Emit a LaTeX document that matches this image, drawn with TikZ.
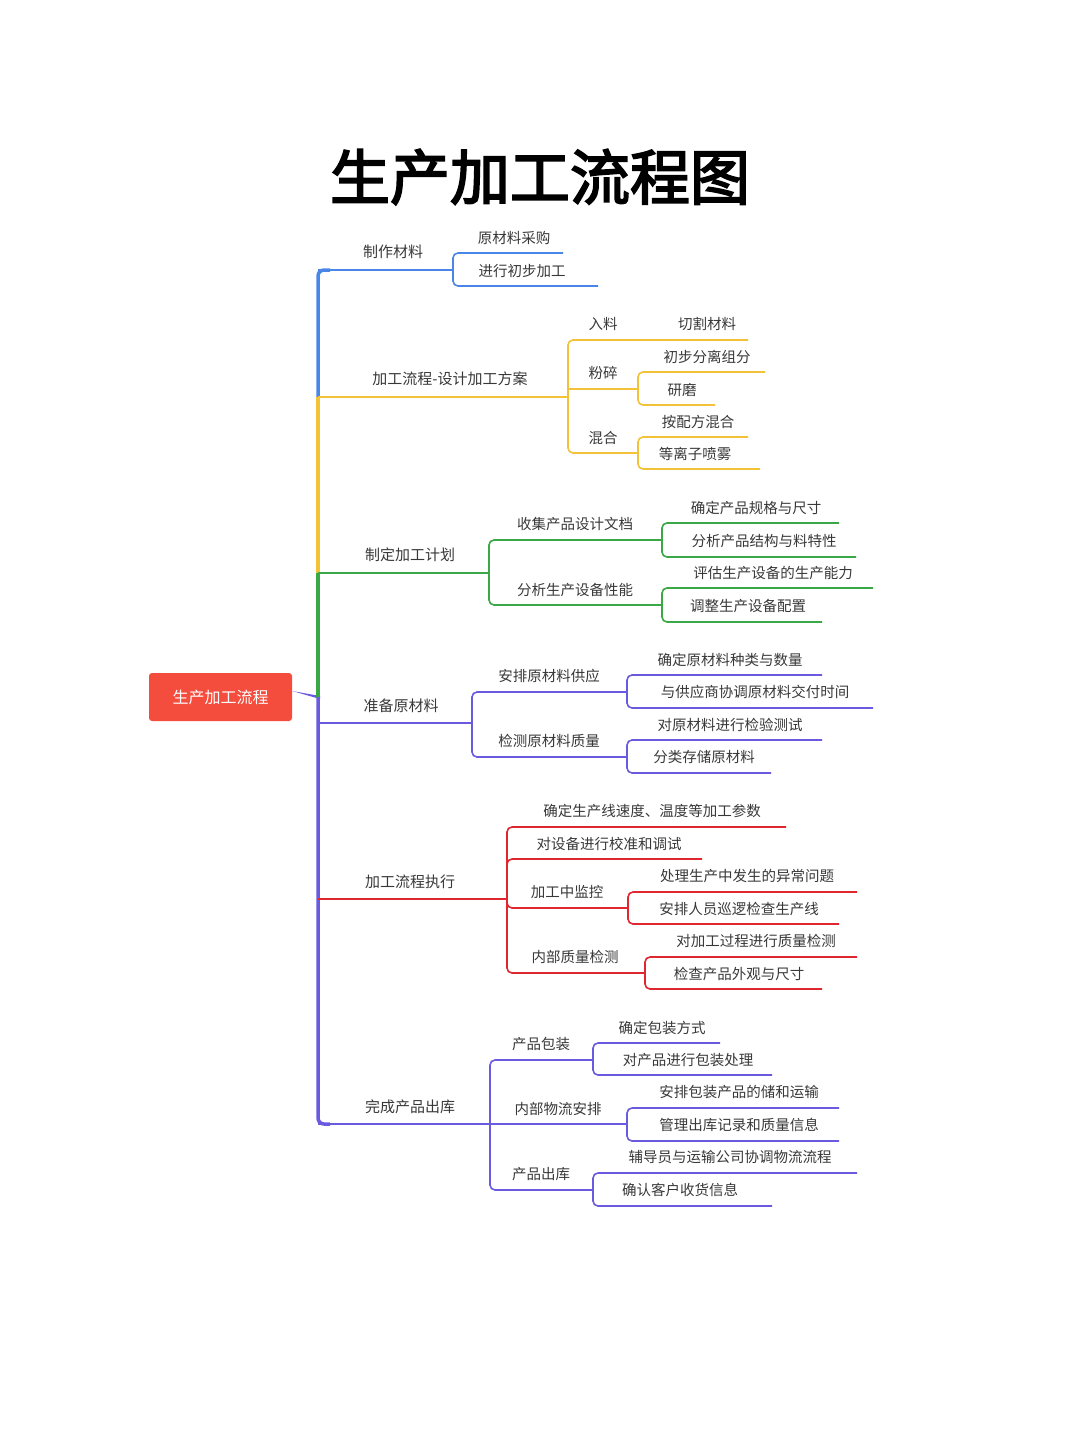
\documentclass[tikz,border=0pt]{standalone}
\usepackage{fontspec}
\setmainfont{Noto Sans CJK SC}
\newfontfamily\titlefont[FakeBold=3]{Noto Sans CJK SC}
\begin{document}
\begin{tikzpicture}[x=1pt,y=-1pt,
  lbl/.style={text=black!78,font=\fontsize{14.5}{16}\selectfont,inner sep=0pt},
  lone/.style={lbl,font=\fontsize{15}{17}\selectfont},
  ln/.style={line width=1.6pt,rounded corners=5pt},
  ]
\definecolor{cblue}{HTML}{4A86E8}
\definecolor{cyel}{HTML}{F4C238}
\definecolor{cgreen}{HTML}{3BA846}
\definecolor{cpur}{HTML}{6A5AE0}
\definecolor{cred}{HTML}{E0262F}
\definecolor{croot}{HTML}{F44C3D}
\useasboundingbox (0,0) rectangle (1080,1439);
\newcommand\cl[5]{\draw[ln,#1] (#2,#3) -- (#2,#4) -- (#5,#4);}
% title
\node (title) at (540,177) {\titlefont\fontsize{60}{64}\selectfont 生产加工流程图};
% root
\node[fill=croot,rounded corners=3pt,minimum width=143pt,minimum height=48pt,text=white,font=\fontsize{16}{18}\selectfont] (root) at (220.5,697) {生产加工流程};
\fill[cpur] (root.east) ++(0,-6) -- (320,696) -- (320,699) -- ([yshift=6pt]root.east) -- cycle;
% spine
\draw[cblue,line width=3.5pt,rounded corners=6pt] (330,270) -- (318,270) -- (318,398);
\draw[cyel,line width=3.5pt] (318,397) -- (318,574);
\draw[cgreen,line width=3.5pt] (318,573) -- (318,698);
\draw[cpur,line width=3.5pt,rounded corners=6pt] (318,697) -- (318,1124) -- (330,1124);
% level1 lines
\draw[ln,cblue] (318,270) -- (453,270);
\draw[ln,cyel] (318,397) -- (568,397);
\draw[ln,cgreen] (318,573) -- (489,573);
\draw[ln,cpur] (318,723) -- (472,723);
\draw[ln,cred] (318,899) -- (507,899);
\draw[ln,cpur] (318,1124) -- (490,1124);
\node[lone] (a) at (393,252) {制作材料};
\node[lone] (b) at (450,379) {加工流程-设计加工方案};
\node[lone] (c) at (410,555) {制定加工计划};
\node[lone] (d) at (401,706) {准备原材料};
\node[lone] (e) at (410,882) {加工流程执行};
\node[lone] (f) at (410,1107) {完成产品出库};
% A
\cl{cblue}{453}{270}{253}{563} \cl{cblue}{453}{270}{286}{598}
\node[lbl] (a1) at (514,238) {原材料采购};
\node[lbl] (a2) at (522,271) {进行初步加工};
% B
\cl{cyel}{568}{397}{340}{748} \cl{cyel}{568}{397}{453}{638}
\draw[ln,cyel] (568,389) -- (638,389);
\node[lbl] (b1) at (603,324) {入料};
\node[lbl] (b1a) at (707,324) {切割材料};
\node[lbl] (b2) at (603,373) {粉碎};
\node[lbl] (b3) at (603,438) {混合};
\cl{cyel}{638}{389}{372}{765} \cl{cyel}{638}{389}{405}{715}
\node[lbl] (b2a) at (707,357) {初步分离组分};
\node[lbl] (b2b) at (682,390) {研磨};
\cl{cyel}{638}{453}{437}{748} \cl{cyel}{638}{453}{469}{760}
\node[lbl] (b3a) at (698,422) {按配方混合};
\node[lbl] (b3b) at (695,454) {等离子喷雾};
% C
\cl{cgreen}{489}{573}{540}{662} \cl{cgreen}{489}{573}{605}{662}
\node[lbl] (c1) at (575,524) {收集产品设计文档};
\node[lbl] (c2) at (575,590) {分析生产设备性能};
\cl{cgreen}{662}{540}{523}{839} \cl{cgreen}{662}{540}{557}{856}
\cl{cgreen}{662}{605}{588}{873} \cl{cgreen}{662}{605}{622}{822}
\node[lbl] (c1a) at (756,508) {确定产品规格与尺寸};
\node[lbl] (c1b) at (764,541) {分析产品结构与料特性};
\node[lbl] (c2a) at (773,573) {评估生产设备的生产能力};
\node[lbl] (c2b) at (748,606) {调整生产设备配置};
% D
\cl{cpur}{472}{723}{692}{627} \cl{cpur}{472}{723}{757}{627}
\node[lbl] (d1) at (549,676) {安排原材料供应};
\node[lbl] (d2) at (549,741) {检测原材料质量};
\cl{cpur}{627}{692}{675}{822} \cl{cpur}{627}{692}{708}{873}
\cl{cpur}{627}{757}{740}{822} \cl{cpur}{627}{757}{773}{771}
\node[lbl] (d1a) at (730,660) {确定原材料种类与数量};
\node[lbl] (d1b) at (755,692) {与供应商协调原材料交付时间};
\node[lbl] (d2a) at (730,725) {对原材料进行检验测试};
\node[lbl] (d2b) at (704,757) {分类存储原材料};
% E
\cl{cred}{507}{899}{827}{786} \cl{cred}{507}{899}{859}{702}
\cl{cred}{507}{899}{908}{628} \cl{cred}{507}{899}{973}{645}
\node[lbl] (e1) at (652,811) {确定生产线速度、温度等加工参数};
\node[lbl] (e2) at (609,844) {对设备进行校准和调试};
\node[lbl] (e3) at (567,892) {加工中监控};
\node[lbl] (e4) at (575,957) {内部质量检测};
\cl{cred}{628}{908}{892}{857} \cl{cred}{628}{908}{924}{839}
\cl{cred}{645}{973}{957}{857} \cl{cred}{645}{973}{989}{822}
\node[lbl] (e3a) at (747,876) {处理生产中发生的异常问题};
\node[lbl] (e3b) at (739,909) {安排人员巡逻检查生产线};
\node[lbl] (e4a) at (756,941) {对加工过程进行质量检测};
\node[lbl] (e4b) at (739,974) {检查产品外观与尺寸};
% F
\cl{cpur}{490}{1124}{1060}{593} \cl{cpur}{490}{1124}{1190}{593}
\draw[ln,cpur] (490,1124) -- (627,1124);
\node[lbl] (f1) at (541,1044) {产品包装};
\node[lbl] (f2) at (558,1109) {内部物流安排};
\node[lbl] (f3) at (541,1174) {产品出库};
\cl{cpur}{593}{1060}{1043}{720} \cl{cpur}{593}{1060}{1075}{772}
\cl{cpur}{627}{1124}{1108}{839} \cl{cpur}{627}{1124}{1141}{839}
\cl{cpur}{593}{1190}{1173}{857} \cl{cpur}{593}{1190}{1206}{772}
\node[lbl] (f1a) at (662,1028) {确定包装方式};
\node[lbl] (f1b) at (688,1060) {对产品进行包装处理};
\node[lbl] (f2a) at (739,1092) {安排包装产品的储和运输};
\node[lbl] (f2b) at (739,1125) {管理出库记录和质量信息};
\node[lbl] (f3a) at (730,1157) {辅导员与运输公司协调物流流程};
\node[lbl] (f3b) at (680,1190) {确认客户收货信息};
\end{tikzpicture}
\end{document}
